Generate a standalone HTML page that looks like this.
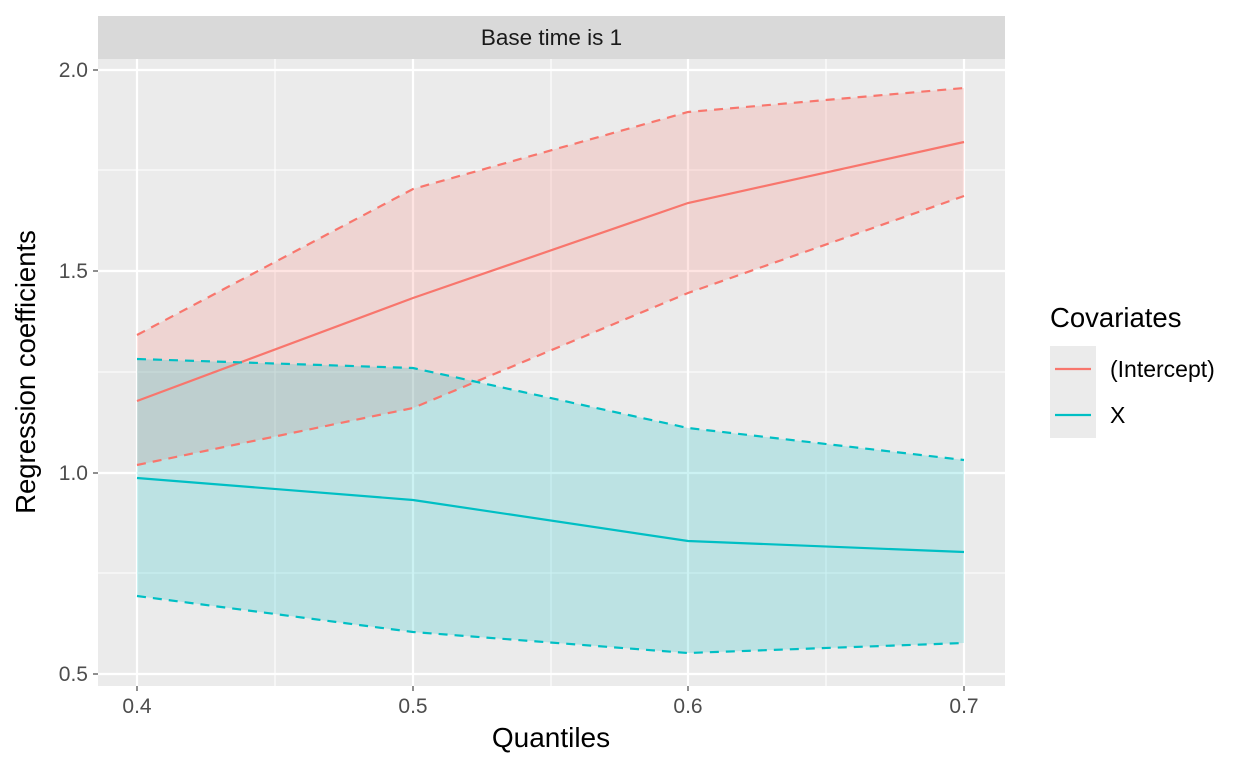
<!DOCTYPE html>
<html><head><meta charset="utf-8"><style>body{margin:0;background:#fff}svg{display:block}text{font-family:"Liberation Sans",Arial,sans-serif}</style></head><body>
<svg width="1248" height="768" xmlns="http://www.w3.org/2000/svg">
<rect x="98" y="16" width="907" height="43" fill="#d9d9d9"/>
<text x="551.5" y="45" font-size="22.5" text-anchor="middle" fill="#1a1a1a">Base time is 1</text>
<rect x="98" y="59" width="907" height="627" fill="#ebebeb"/>
<g stroke="#fff" stroke-width="1.1">
<line x1="98" x2="1005" y1="170" y2="170"/><line x1="98" x2="1005" y1="372" y2="372"/><line x1="98" x2="1005" y1="573" y2="573"/>
<line x1="275" x2="275" y1="59" y2="686"/><line x1="551" x2="551" y1="59" y2="686"/><line x1="826" x2="826" y1="59" y2="686"/>
</g>
<g stroke="#fff" stroke-width="2.2">
<line x1="98" x2="1005" y1="70" y2="70"/><line x1="98" x2="1005" y1="271" y2="271"/><line x1="98" x2="1005" y1="473" y2="473"/><line x1="98" x2="1005" y1="674" y2="674"/>
<line x1="137" x2="137" y1="59" y2="686"/><line x1="413" x2="413" y1="59" y2="686"/><line x1="688" x2="688" y1="59" y2="686"/><line x1="964" x2="964" y1="59" y2="686"/>
</g>
<polygon points="137,335 413,189 688,112 964,88 964,196 688,293 413,408 137,465" fill="#f8766d" fill-opacity="0.2"/>
<polygon points="137,359 413,368 688,428 964,460 964,643 688,653 413,632 137,596" fill="#00bfc4" fill-opacity="0.2"/>
<g fill="none" stroke-width="2.2">
<polyline points="137,401 413,298 688,203 964,142" stroke="#f8766d"/>
<polyline points="137,335 413,189 688,112 964,88" stroke="#f8766d" stroke-dasharray="9,7"/>
<polyline points="137,465 413,408 688,293 964,196" stroke="#f8766d" stroke-dasharray="9,7"/>
<polyline points="137,478 413,500 688,541 964,552" stroke="#00bfc4"/>
<polyline points="137,359 413,368 688,428 964,460" stroke="#00bfc4" stroke-dasharray="9,7"/>
<polyline points="137,596 413,632 688,653 964,643" stroke="#00bfc4" stroke-dasharray="9,7"/>
</g>
<g stroke="#333" stroke-width="1.1">
<line x1="93" x2="98" y1="70" y2="70"/><line x1="93" x2="98" y1="271" y2="271"/><line x1="93" x2="98" y1="473" y2="473"/><line x1="93" x2="98" y1="674" y2="674"/>
<line x1="137" x2="137" y1="686" y2="691"/><line x1="413" x2="413" y1="686" y2="691"/><line x1="688" x2="688" y1="686" y2="691"/><line x1="964" x2="964" y1="686" y2="691"/>
</g>
<g font-size="21" fill="#4d4d4d" text-anchor="end">
<text x="88" y="77">2.0</text><text x="88" y="278">1.5</text><text x="88" y="480">1.0</text><text x="88" y="681">0.5</text>
</g>
<g font-size="21" fill="#4d4d4d" text-anchor="middle">
<text x="137" y="713">0.4</text><text x="413" y="713">0.5</text><text x="688" y="713">0.6</text><text x="964" y="713">0.7</text>
</g>
<text x="551" y="747" font-size="28" text-anchor="middle" fill="#000">Quantiles</text>
<text transform="translate(35,372) rotate(-90)" font-size="27.5" text-anchor="middle" fill="#000">Regression coefficients</text>
<text x="1050" y="327" font-size="27.5" fill="#000">Covariates</text>
<rect x="1050" y="346" width="46" height="92" fill="#ebebeb"/>
<line x1="1055" x2="1091" y1="369" y2="369" stroke="#f8766d" stroke-width="2.2"/>
<line x1="1055" x2="1091" y1="415" y2="415" stroke="#00bfc4" stroke-width="2.2"/>
<text x="1110" y="377" font-size="23" fill="#000">(Intercept)</text>
<text x="1110" y="423" font-size="23" fill="#000">X</text>
</svg>
</body></html>
